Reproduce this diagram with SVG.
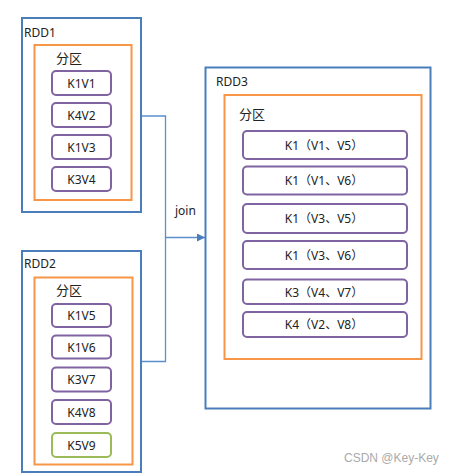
<svg xmlns="http://www.w3.org/2000/svg" width="455" height="474" viewBox="0 0 455 474">
<style>
.rdd{fill:#fff;stroke:#4A7EBB;stroke-width:2}
.part{fill:none;stroke:#F79646;stroke-width:2}
.kv{fill:#fff;stroke:#8064A2;stroke-width:2}
.kvg{fill:#fff;stroke:#9BBB59;stroke-width:2}
.t{font-family:"Noto Sans","Noto Sans CJK SC",sans-serif;font-size:12px;fill:#222}
.c{text-anchor:middle}
.cn{font-family:"Noto Sans CJK SC",sans-serif;font-size:13px;fill:#222}
.conn{fill:none;stroke:#5B8FCB;stroke-width:1.3}
</style>
<defs>
<marker id="arr" viewBox="0 0 8 8" refX="8" refY="4" markerWidth="8" markerHeight="8" markerUnits="userSpaceOnUse" orient="auto">
<path d="M0,0 L8,4 L0,8 Z" fill="#4A7EBB"/>
</marker>
</defs>
<rect width="455" height="474" fill="#fff"/>
<g id="connectors">
<path class="conn" d="M141,116 H165.5 V361.5 H141"/>
<path class="conn" d="M165.5,237.5 H205" marker-end="url(#arr)"/>
<text class="t" x="175" y="215">join</text>
</g>
<g id="rdd1">
<rect class="rdd" x="22" y="18" width="119" height="194"/>
<text class="t" x="24" y="37">RDD1</text>
<rect class="part" x="34.5" y="45" width="97" height="155"/>
<text class="cn" x="56" y="63">分区</text>
<g id="k1v1"><rect class="kv" x="52" y="71" width="59" height="24" rx="4"/><text class="t c" x="81.5" y="87.5">K1V1</text></g>
<g id="k4v2"><rect class="kv" x="52" y="103" width="59" height="24" rx="4"/><text class="t c" x="81.5" y="119.5">K4V2</text></g>
<g id="k1v3"><rect class="kv" x="52" y="135" width="59" height="24" rx="4"/><text class="t c" x="81.5" y="151.5">K1V3</text></g>
<g id="k3v4"><rect class="kv" x="52" y="167" width="59" height="24" rx="4"/><text class="t c" x="81.5" y="183.5">K3V4</text></g>
</g>
<g id="rdd2">
<rect class="rdd" x="22" y="251" width="119" height="221"/>
<text class="t" x="24" y="268">RDD2</text>
<rect class="part" x="34.5" y="277.5" width="98" height="187"/>
<text class="cn" x="56" y="295">分区</text>
<g id="k1v5"><rect class="kv" x="52" y="304" width="59" height="23" rx="4"/><text class="t c" x="81.5" y="320">K1V5</text></g>
<g id="k1v6"><rect class="kv" x="52" y="335.5" width="59" height="23" rx="4"/><text class="t c" x="81.5" y="351.5">K1V6</text></g>
<g id="k3v7"><rect class="kv" x="52" y="367.5" width="59" height="24" rx="4"/><text class="t c" x="81.5" y="384">K3V7</text></g>
<g id="k4v8"><rect class="kv" x="52" y="400" width="59" height="24" rx="4"/><text class="t c" x="81.5" y="416.5">K4V8</text></g>
<g id="k5v9"><rect class="kvg" x="52" y="433" width="59" height="24" rx="4"/><text class="t c" x="81.5" y="449.5">K5V9</text></g>
</g>
<g id="rdd3">
<rect class="rdd" x="205.5" y="67.5" width="225" height="341"/>
<text class="t" x="216" y="86">RDD3</text>
<rect class="part" x="224.5" y="95" width="197" height="264"/>
<text class="cn" x="239" y="119">分区</text>
<g id="r1"><rect class="kv" x="243" y="131" width="164" height="28" rx="4"/><text class="t c" x="324" y="149.5">K1（V1、V5）</text></g>
<g id="r2"><rect class="kv" x="243" y="166.5" width="164" height="28" rx="4"/><text class="t c" x="324" y="185">K1（V1、V6）</text></g>
<g id="r3"><rect class="kv" x="243" y="204" width="164" height="29" rx="4"/><text class="t c" x="324" y="223">K1（V3、V5）</text></g>
<g id="r4"><rect class="kv" x="243" y="241" width="164" height="28" rx="4"/><text class="t c" x="324" y="259.5">K1（V3、V6）</text></g>
<g id="r5"><rect class="kv" x="243" y="279.5" width="164" height="24.5" rx="4"/><text class="t c" x="324" y="296.5">K3（V4、V7）</text></g>
<g id="r6"><rect class="kv" x="243" y="312" width="164" height="25" rx="4"/><text class="t c" x="324" y="329">K4（V2、V8）</text></g>
</g>
<text x="344" y="462" style="font-family:'Liberation Sans',sans-serif;font-size:12px;fill:#aaa">CSDN @Key-Key</text>
</svg>
